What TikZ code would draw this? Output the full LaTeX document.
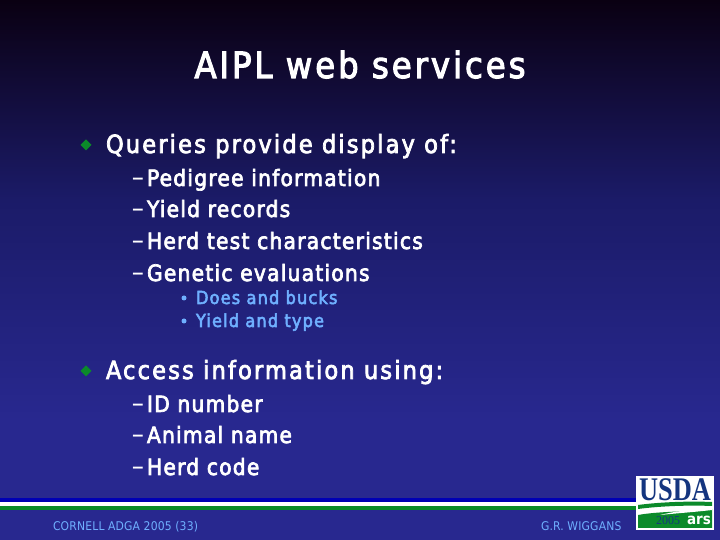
\documentclass[tikz,border=0pt]{standalone}
\usepackage{fontspec}
\setmainfont{DejaVu Sans Condensed}
\newfontfamily\logofont[FakeStretch=0.8]{Liberation Serif}
\newfontfamily\yearfont{Liberation Serif}
\usetikzlibrary{positioning,shapes.geometric}
\definecolor{slideblue}{HTML}{28288F}
\definecolor{slidetop}{HTML}{0A0012}
\definecolor{slidemid}{HTML}{1B1B68}
\definecolor{linkblue}{HTML}{6FB0FF}
\definecolor{rulegreen}{HTML}{0B8A2A}
\definecolor{ruleblue}{HTML}{0000B4}
\definecolor{usdablue}{HTML}{14357F}
\begin{document}
\begin{tikzpicture}[
x=1pt,y=1pt,
every node/.style={inner sep=0pt,outer sep=0pt,anchor=base west},
titletext/.style={white,font=\fontsize{36}{36}\selectfont\addfontfeature{FakeBold=3,LetterSpace=8.2},anchor=base},
headtext/.style={white,font=\fontsize{25}{25}\selectfont\addfontfeature{FakeBold=3,LetterSpace=8.7}},
itemtext/.style={white,font=\fontsize{22.5}{22.5}\selectfont\addfontfeature{FakeBold=3,LetterSpace=5.5}},
subtext/.style={linkblue,font=\fontsize{18}{18}\selectfont\addfontfeature{FakeBold=3,LetterSpace=6.4}},
foottext/.style={linkblue,font=\fontsize{12}{12}\selectfont\addfontfeature{LetterSpace=1.5}},
bullet/.style={
	fill=rulegreen,
	diamond,
	minimum width=11pt,
	minimum height=11pt,
	anchor=center
},
dot/.style={
	fill=linkblue,
	circle,
	minimum width=5pt,
	anchor=center
}
]
\useasboundingbox (0,0) rectangle (720,540);
% background
\fill[top color=slidetop,bottom color=slidemid] (0,540) rectangle (720,340);
\fill[top color=slidemid,bottom color=slideblue] (0,340.2) rectangle (720,120);
\fill[slideblue] (0,120.2) rectangle (720,0);
% rules
\fill[ruleblue] (0,42) rectangle (640,38);
\fill[white] (0,38) rectangle (640,34);
\fill[rulegreen] (0,34) rectangle (640,30);

\node[titletext] (title) at (360,462) {AIPL web services};

\node[bullet] (b1) at (86,395) {};
\node[headtext] (queries) at (106,387) {Queries provide display of:};
\node[bullet] (b2) at (86,169) {};
\node[headtext] (access) at (106,161) {Access information using:};

\foreach \y/\l/\t in {354/a/Pedigree information,323/b/Yield records,291/c/Herd test characteristics,259/d/Genetic evaluations,128/e/ID number,97/f/Animal name,65/g/Herd code}{
\node[itemtext] (i\l) at (147,\y) {\t};
\node[white,font=\fontsize{27}{27}\selectfont,anchor=base east] (m\l) at (144,\y-1) {–};
}

\foreach \y/\l/\t in {236/a/Does and bucks,213/b/Yield and type}{
\node[subtext] (s\l) at (196,\y) {\t};
\node[dot] (d\l) at (184,\y+6) {};
}

\node[foottext] (left) at (53,9) {CORNELL ADGA 2005 (33)};
\node[foottext] (right) at (541,9) {G.R. WIGGANS};

% logo
\fill[white] (636,10) rectangle (714,64);
\node[usdablue,font=\logofont\fontsize{33}{33}\selectfont\bfseries,anchor=base] (usda) at (675,39) {USDA};
\fill[rulegreen] (638,12) -- (638,25) .. controls (660,29) and (690,28) .. (712,31) -- (712,12) -- cycle;
\fill[rulegreen] (638,35) .. controls (660,38) and (690,39) .. (712,38) -- (712,34) .. controls (690,35) and (660,34) .. (638,31) -- cycle;
\fill[white] (660,25) .. controls (680,30) and (695,30) .. (712,33) -- (712,30) .. controls (695,28) and (680,27) .. (660,25) -- cycle;
\node[usdablue,font=\yearfont\fontsize{12}{12}\selectfont,anchor=base] (year) at (668,15) {2005};
\node[white,font=\fontsize{15}{15}\selectfont\bfseries,anchor=base] (ars) at (699,15) {ars};
\end{tikzpicture}
\end{document}
